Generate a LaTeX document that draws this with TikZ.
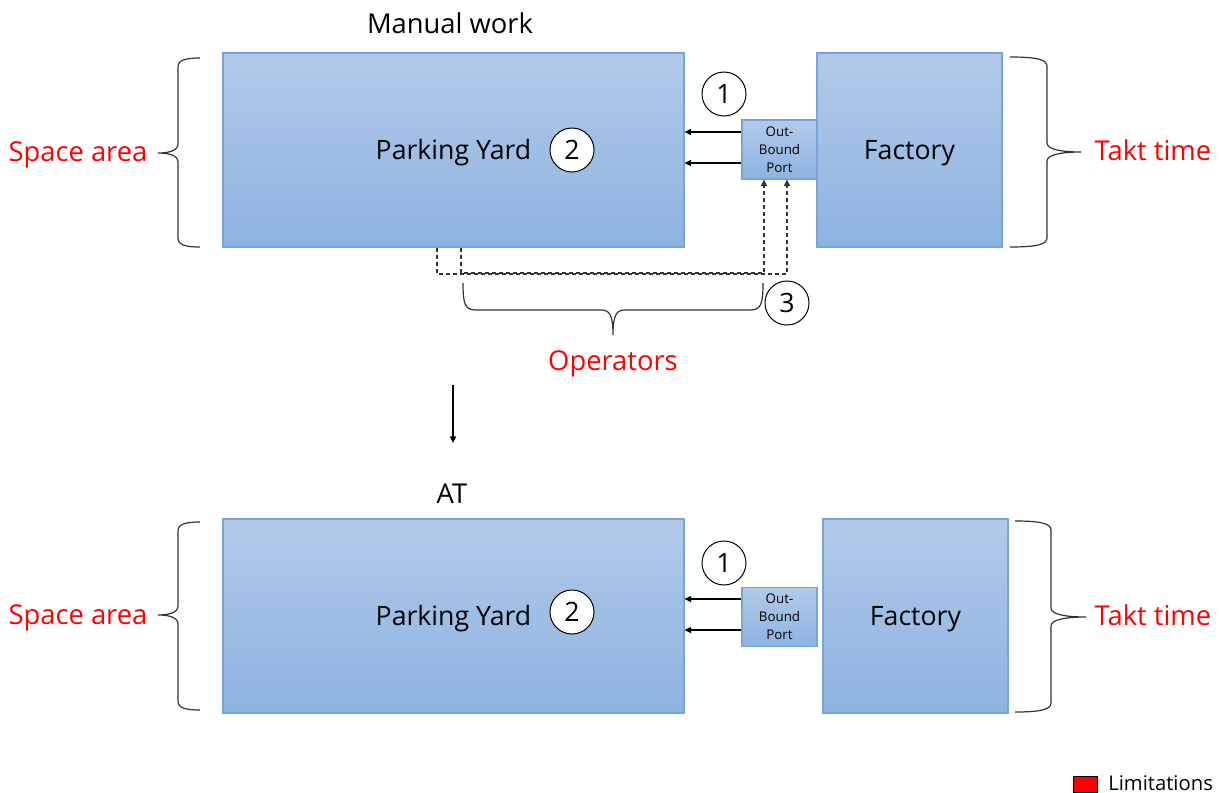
\documentclass[tikz,border=0pt]{standalone}
\usepackage{fontspec}
\setmainfont{Open Sans}
\usetikzlibrary{arrows.meta}
\newlength\pxu
\setlength\pxu{0.75pt}
\definecolor{boxtop}{HTML}{B1CAE9}
\definecolor{boxbot}{HTML}{8DB3E0}
\definecolor{boxline}{HTML}{78A4D8}
\definecolor{limred}{HTML}{FF0000}
\tikzset{
  area/.style={rectangle, inner sep=0pt, draw=boxline, line width=1.1\pxu,
    top color=boxtop, bottom color=boxbot, font=\fontsize{20}{24}\selectfont,
    text height=18.8pt, text depth=4.2pt},
  portbox/.style={rectangle, inner sep=0pt, draw=boxline, line width=1.1\pxu,
    top color=boxtop, bottom color=boxbot,
    font=\fontsize{10}{13.5}\selectfont, align=center,
    minimum width=75\pxu, minimum height=59\pxu},
  numcirc/.style={circle, draw=black, line width=1\pxu, fill=white,
    minimum size=44\pxu, inner sep=0pt, font=\fontsize{20}{24}\selectfont},
  flowarrow/.style={line width=1.1\pxu, -{Triangle[length=4.9pt,width=4.5pt]}},
  dashflow/.style={draw=black!80, line width=1.2\pxu, dash pattern=on 4.5\pxu off 2.5\pxu,
    -{Triangle[length=4.9pt,width=4.5pt]}},
  curlyline/.style={draw=black!80, line width=1.2\pxu},
  bigtext/.style={font=\fontsize{20.5}{24}\selectfont, text height=19.3pt, text depth=4.3pt},
  redlabel/.style={bigtext, text=limred},
  title/.style={bigtext},
}
% vertical curly brace: end x, spine x, tip x, top y, bottom y, tip y
\newcommand\curlyvert[6]{%
  \draw[curlyline] (#1,#4) .. controls ({#2+0.35*(#1-#2)},#4) and (#2,#4+2) .. (#2,#4+9)
    -- (#2,#6-9) .. controls (#2,#6-2) and ({#2+0.5*(#3-#2)},#6) .. (#3,#6)
    .. controls ({#2+0.5*(#3-#2)},#6) and (#2,#6+2) .. (#2,#6+9)
    -- (#2,#5-9) .. controls (#2,#5-2) and ({#2+0.35*(#1-#2)},#5) .. (#1,#5);}
\begin{document}
\begin{tikzpicture}[x=0.75pt, y=-0.75pt]
  \useasboundingbox (0,0) rectangle (1222,793);

  % ---------------- manual work ----------------
  \node[title] (tman) at (450,23.5) {Manual work};
  \node[area, minimum width=461\pxu, minimum height=194\pxu] (py1) at (453.5,150) {Parking Yard};
  \node[area, minimum width=185\pxu, minimum height=194\pxu] (fac1) at (909.5,150) {Factory};
  \node[portbox] (port1) at (779.5,149.5) {Out-\\Bound\\Port};
  \node[numcirc] (c11) at (724,94) {1};
  \node[numcirc] (c12) at (572,150) {2};
  \node[numcirc] (c13) at (787,303) {3};

  \draw[flowarrow] (port1.west |- 0,132) -- (py1.east |- 0,132);
  \draw[flowarrow] (port1.west |- 0,163) -- (py1.east |- 0,163);

  \draw[dashflow] (py1.south -| 437,0) -- (437,274) -- (787,274) -- (port1.south -| 787,0);
  \draw[dashflow] (py1.south -| 461,0) -- (461,273) -- (764,273) -- (port1.south -| 764,0);

  \curlyvert{200}{178}{158}{58}{247}{153}
  \node[redlabel] (sa1) at (78,151) {Space area};
  \curlyvert{1010}{1047}{1081}{57}{247}{152}
  \node[redlabel] (tt1) at (1153,150) {Takt time};
  \draw[curlyline] (463,283) .. controls (463,304) and (465,310) .. (476,310)
    -- (601,310) .. controls (609,310) and (613,314) .. (613,335)
    .. controls (613,314) and (617,310) .. (625,310)
    -- (750,310) .. controls (761,310) and (763,304) .. (763,283);
  \node[redlabel] (ops) at (613,360) {Operators};

  % ---------------- transition ----------------
  \coordinate (dtop) at (453,385);
  \coordinate (dbot) at (453,443);
  \draw[flowarrow] (dtop) -- (dbot);

  % ---------------- AT ----------------
  \node[title] (tat) at (452,493.5) {AT};
  \node[area, minimum width=461\pxu, minimum height=194\pxu] (py2) at (453.5,616) {Parking Yard};
  \node[area, minimum width=185\pxu, minimum height=194\pxu] (fac2) at (915.5,616) {Factory};
  \node[portbox] (port2) at (779.5,617) {Out-\\Bound\\Port};
  \node[numcirc] (c21) at (724,563) {1};
  \node[numcirc] (c22) at (572,612) {2};

  \draw[flowarrow] (port2.west |- 0,599) -- (py2.east |- 0,599);
  \draw[flowarrow] (port2.west |- 0,630) -- (py2.east |- 0,630);

  \curlyvert{200}{178}{158}{522}{710}{615}
  \node[redlabel] (sa2) at (78,614) {Space area};
  \curlyvert{1015}{1051}{1086}{521}{712}{617}
  \node[redlabel] (tt2) at (1153,615) {Takt time};

  % ---------------- legend ----------------
  \node[rectangle, draw=black, line width=1\pxu, fill=limred, inner sep=0pt,
        minimum width=24\pxu, minimum height=16\pxu] (lkey) at (1085,784) {};
  \node[anchor=west, inner sep=0pt, font=\fontsize{15.2}{18}\selectfont] (ltext)
        at (1108,783) {Limitations};
\end{tikzpicture}
\end{document}
